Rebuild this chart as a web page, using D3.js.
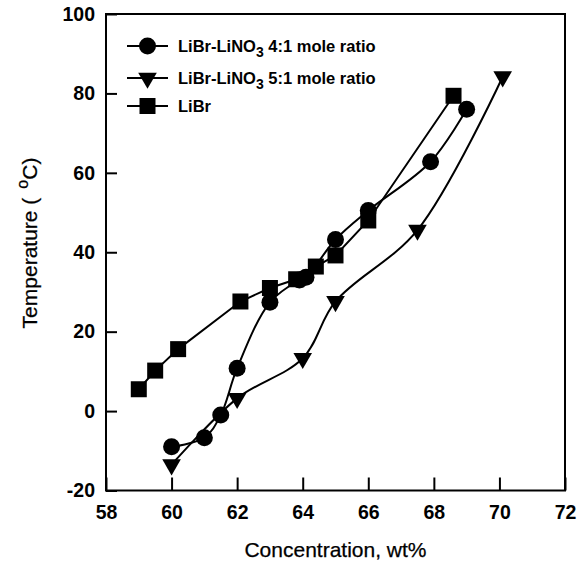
<!DOCTYPE html>
<html><head><meta charset="utf-8">
<script src="https://cdn.jsdelivr.net/npm/d3@7"></script>
<style>
body{margin:0;background:#fff;}
text{font-family:"Liberation Sans",Arial,sans-serif;fill:#000;}
</style></head>
<body><svg id="c" width="585" height="571"></svg>
<script>
// Data
const xTicks = [58, 60, 62, 64, 66, 68, 70, 72];
const yTicks = [-20, 0, 20, 40, 60, 80, 100];

const s41Name = "4:1 mole ratio";
const s41X = [60.0, 61.0, 61.5, 62.0, 63.0, 63.9, 64.1, 65.0, 66.0, 67.9, 69.0];
const s41Y = [-9.0, -6.7, -1.0, 10.8, 27.4, 33.0, 33.7, 43.2, 50.5, 62.8, 76.0];

const s51Name = "5:1 mole ratio";
const s51X = [60.0, 62.0, 64.0, 65.0, 67.5, 70.1];
const s51Y = [-13.5, 3.2, 13.3, 27.6, 45.6, 84.2];

const librName = "LiBr";
const librX = [59.0, 59.5, 60.2, 62.1, 63.0, 63.8, 64.4, 65.0, 66.0, 68.6];
const librY = [5.5, 10.2, 15.6, 27.6, 31.0, 33.2, 36.4, 39.2, 48.0, 79.4];

const svg = d3.select("#c");
const L = 106, R = 565, T = 14, B = 490.5;
const x = d3.scaleLinear().domain([58, 72]).range([L, R]);
const y = d3.scaleLinear().domain([-20, 100]).range([B, T]);
const fmt = d => String(d); // hyphen-minus as in the original

// frame
svg.append("rect").attr("x", L).attr("y", T).attr("width", R - L).attr("height", B - T)
  .attr("fill", "none").attr("stroke", "#000").attr("stroke-width", 2);

// axes
const xAxis = d3.axisBottom(x).tickValues(xTicks).tickSize(-13).tickPadding(15).tickFormat(fmt);
const gx = svg.append("g").attr("transform", `translate(0,${B})`).call(xAxis);
const yAxis = d3.axisLeft(y).tickValues(yTicks).tickSize(-11).tickPadding(11).tickFormat(fmt);
const gy = svg.append("g").attr("transform", `translate(${L},0)`).call(yAxis);
[gx, gy].forEach(g => {
  g.select(".domain").remove();
  g.selectAll(".tick line").attr("stroke", "#000").attr("stroke-width", 2);
  g.selectAll(".tick text").attr("font-size", 19.5).attr("font-weight", "bold").attr("fill", "#000")
    .attr("font-family", '"Liberation Sans",Arial,sans-serif');
});

// axis titles
svg.append("text").attr("x", (L + R) / 2).attr("y", 557).attr("text-anchor", "middle")
  .attr("font-size", 21).attr("stroke", "#000").attr("stroke-width", 0.25).text("Concentration, wt%");
const yt = svg.append("text").attr("transform", "translate(37,243) rotate(-90)").attr("text-anchor", "middle")
  .attr("font-size", 21).attr("stroke", "#000").attr("stroke-width", 0.25);
yt.append("tspan").text("Temperature (");
yt.append("tspan").attr("font-size", 16).attr("dx", 9).attr("dy", -9).text("o");
yt.append("tspan").attr("dy", 9).text("C)");

// markers
const sym = {
  circle: d3.symbol().type(d3.symbolCircle).size(Math.PI * 8.5 * 8.5),
  square: d3.symbol().type(d3.symbolSquare).size(16 * 16),
  tri: d3.symbol().type(d3.symbolTriangle).size(150)
};
const triRot = "rotate(180)";

function series(xs, ys, curve, type) {
  const pts = xs.map((d, i) => [d, ys[i]]);
  const line = d3.line().x(d => x(d[0])).y(d => y(d[1])).curve(curve);
  svg.append("path").attr("d", line(pts)).attr("fill", "none").attr("stroke", "#000").attr("stroke-width", 2);
  svg.append("g").selectAll("path").data(pts).join("path")
    .attr("transform", d => `translate(${x(d[0])},${y(d[1])})` + (type === "tri" ? " " + triRot : ""))
    .attr("d", sym[type]()).attr("fill", "#000");
}
series(librX, librY, d3.curveLinear, "square");
series(s41X, s41Y, d3.curveCatmullRom.alpha(0.5), "circle");
series(s51X, s51Y, d3.curveCatmullRom.alpha(0.5), "tri");

// legend
const leg = [
  { type: "circle", pre: "LiBr-LiNO", sub: "3", post: " " + s41Name, yy: 46 },
  { type: "tri", pre: "LiBr-LiNO", sub: "3", post: " " + s51Name, yy: 78 },
  { type: "square", pre: librName, sub: null, post: null, yy: 106 }
];
leg.forEach(l => {
  svg.append("line").attr("x1", 127).attr("x2", 168).attr("y1", l.yy).attr("y2", l.yy)
    .attr("stroke", "#000").attr("stroke-width", 2);
  svg.append("path").attr("transform", `translate(147.5,${l.yy})` + (l.type === "tri" ? " " + triRot : ""))
    .attr("d", sym[l.type]()).attr("fill", "#000");
  const t = svg.append("text").attr("x", 178).attr("y", l.yy + 6).attr("font-size", 16.5)
    .attr("font-weight", "bold");
  t.append("tspan").text(l.pre);
  if (l.sub) {
    t.append("tspan").attr("font-size", 14).attr("dy", 5).text(l.sub);
    t.append("tspan").attr("dy", -5).text(l.post);
  }
});
</script></body></html>
